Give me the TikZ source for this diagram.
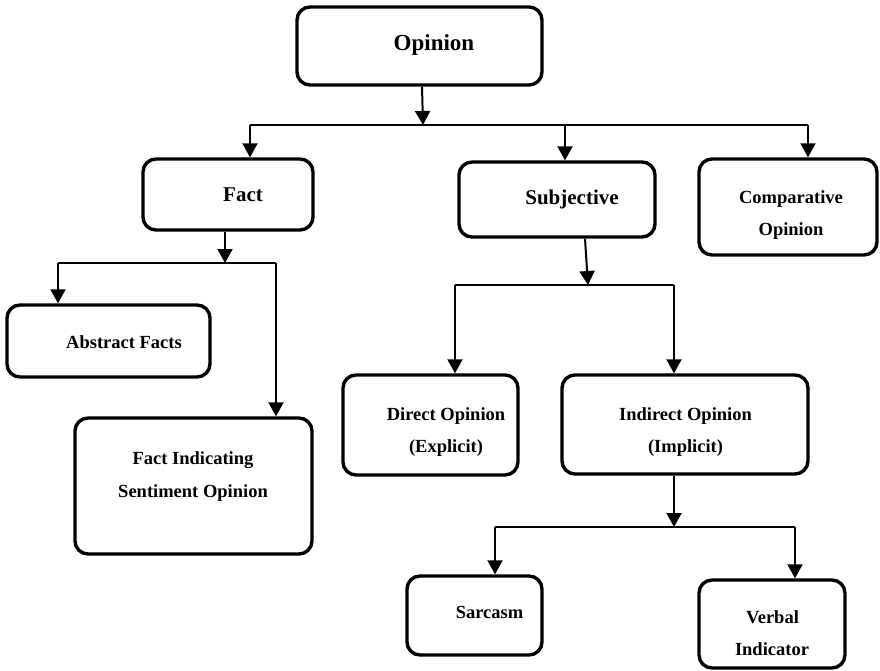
\documentclass[tikz,border=0pt]{standalone}
\usepackage{fontspec}
\setmainfont{Liberation Serif}
\usetikzlibrary{arrows.meta}
\begin{document}
\begin{tikzpicture}[x=1pt,y=-1pt,
  box/.style 2 args={draw, line width=3.4pt, rounded corners=13pt, inner sep=0pt,
    minimum width=#1, minimum height=#2},
  txt/.style={anchor=base, inner sep=0pt, font=\bfseries\fontsize{18.5}{22}\selectfont},
  bigtxt/.style={txt, font=\bfseries\fontsize{21}{25}\selectfont},
  toptxt/.style={txt, font=\bfseries\fontsize{23}{27}\selectfont},
  conn/.style={line width=2pt},
  arr/.style={conn, -{Triangle[width=15pt,length=14pt]}}]
\useasboundingbox[fill=white] (0,0) rectangle (880,670);

% boxes (centres from left/right/top/bottom)
\node[box={245pt}{78pt}]  (opinion)  at (419.5,46) {};
\node[box={170pt}{71pt}]  (fact)     at (228,194.5) {};
\node[box={196pt}{75pt}]  (subj)     at (557,199.5) {};
\node[box={178pt}{96pt}]  (comp)     at (788,207) {};
\node[box={203pt}{72pt}]  (abstract) at (108.5,341) {};
\node[box={237pt}{136pt}] (factind)  at (193.5,486) {};
\node[box={175pt}{100pt}] (direct)   at (430.5,425) {};
\node[box={246pt}{99pt}]  (indirect) at (685,424.5) {};
\node[box={135pt}{79pt}]  (sarcasm)  at (474.5,615.5) {};
\node[box={146pt}{88pt}]  (verbal)   at (772,624) {};

% texts
\node[toptxt] (topinion) at (434,50) {Opinion};
\node[bigtxt] (tfact) at (243,201) {Fact};
\node[bigtxt] (tsubj) at (572,204) {Subjective};
\node[txt] (tcomp1) at (791,203) {Comparative};
\node[txt] (tcomp2) at (791,235) {Opinion};
\node[txt] (tabs) at (124,348) {Abstract Facts};
\node[txt] (tfi1) at (193,464) {Fact Indicating};
\node[txt] (tfi2) at (193,497) {Sentiment Opinion};
\node[txt] (tdir1) at (446,420) {Direct Opinion};
\node[txt] (tdir2) at (446,452) {(Explicit)};
\node[txt] (tind1) at (685.5,420) {Indirect Opinion};
\node[txt] (tind2) at (685.5,452) {(Implicit)};
\node[txt] (tsar) at (489.5,618) {Sarcasm};
\node[txt] (tverb1) at (772.5,623) {Verbal};
\node[txt] (tverb2) at (772,655) {Indicator};

% bus junction points
\coordinate (b1) at (423,125);
\coordinate (b1l) at (250,125);
\coordinate (b1m) at (565,125);
\coordinate (b1r) at (808,125);
\coordinate (b2) at (225,263);
\coordinate (b2l) at (58,263);
\coordinate (b2r) at (276,263);
\coordinate (b3) at (588,285);
\coordinate (b3l) at (455,285);
\coordinate (b3r) at (674,285);
\coordinate (b4) at (674,527);
\coordinate (b4l) at (495,527);
\coordinate (b4r) at (795,527);

% level 1
\draw[arr] (opinion.south -| 422,0) -- (b1);
\draw[conn] (b1l) -- (b1r);
\draw[arr] (b1l) -- (fact.north -| b1l);
\draw[arr] (b1m) -- (subj.north -| b1m);
\draw[arr] (b1r) -- (comp.north -| b1r);

% fact
\draw[arr] (fact.south -| b2) -- (b2);
\draw[conn] (b2l) -- (b2r);
\draw[arr] (b2l) -- (abstract.north -| b2l);
\draw[arr] (b2r) -- (factind.north -| b2r);

% subjective
\draw[arr] (subj.south -| 585,0) -- (b3);
\draw[conn] (b3l) -- (b3r);
\draw[arr] (b3l) -- (direct.north -| b3l);
\draw[arr] (b3r) -- (indirect.north -| b3r);

% indirect
\draw[arr] (indirect.south -| b4) -- (b4);
\draw[conn] (b4l) -- (b4r);
\draw[arr] (b4l) -- (sarcasm.north -| b4l);
\draw[arr] (b4r) -- (verbal.north -| b4r);
\end{tikzpicture}
\end{document}
